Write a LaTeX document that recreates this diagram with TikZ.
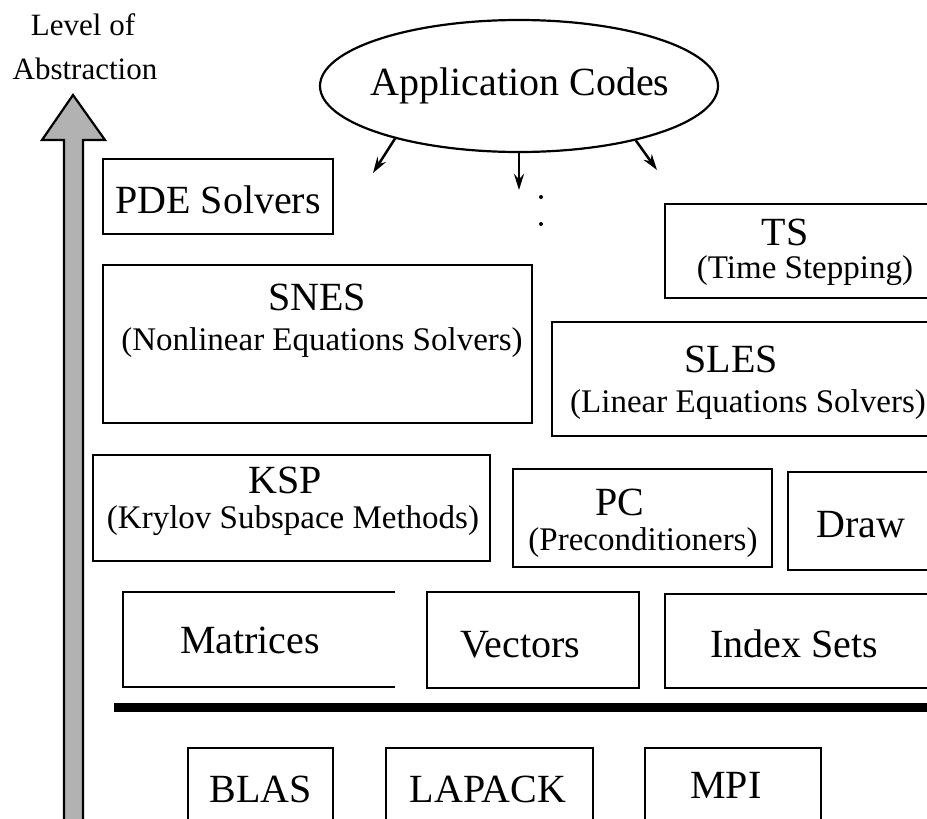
\documentclass[tikz,border=0pt]{standalone}
\usepackage{fontspec}
\setmainfont{Liberation Serif}
\usetikzlibrary{shapes.geometric,arrows.meta}

\begin{document}
\begin{tikzpicture}[x=1pt,y=-1pt,
  box/.style={draw, line width=2.2pt, inner sep=0pt, outer sep=0pt},
  openbox/.style={draw=none, inner sep=0pt, outer sep=0pt},
  title/.style={anchor=base, inner sep=0pt, font=\fontsize{40}{48}\selectfont},
  sub/.style={anchor=base, inner sep=0pt, font=\fontsize{33}{40}\selectfont},
  axislabel/.style={anchor=base, inner sep=0pt, font=\fontsize{31}{37}\selectfont},
  flow/.style={line width=2.5pt, -{Stealth[length=16pt,width=10pt]}}]

\useasboundingbox (0,0) rectangle (927,819);
\clip (0,0) rectangle (927,819);

% level-of-abstraction axis
\node[axislabel] (lvlA) at (83,35) {Level of};
\node[axislabel] (lvlB) at (85,79) {Abstraction};
\draw[line width=2.2pt, fill=black!30, line join=miter]
  (64,840) -- (64,140) -- (42,140) -- (73,95) -- (105,140) -- (83,140) -- (83,840);

% application codes
\node[ellipse, draw, line width=2.2pt, minimum width=398pt, minimum height=132pt, inner sep=0pt] (app) at (519,86) {};
\node[title] (appT) at (520,95) {Application Codes};
\coordinate (endL) at (373,173);
\coordinate (endM) at (519,190);
\coordinate (endR) at (657,170);
\draw[flow] (app.203.5) -- (endL);
\draw[flow] (app.270) -- (endM);
\draw[flow] (app.335) -- (endR);
\fill (541,197) circle (2);
\fill (541,224) circle (2);

% solver layers
\node[box, minimum width=230pt, minimum height=75pt] (pde) at (218,196.5) {};
\node[title] (pdeT) at (218,213) {PDE Solvers};

\node[box, minimum width=429pt, minimum height=158pt] (snes) at (317.5,344) {};
\node[title] (snesT) at (317,310) {SNES};
\node[sub] (snesS) at (322,350) {(Nonlinear Equations Solvers)};

\node[box, minimum width=285pt, minimum height=94pt] (ts) at (807.5,251) {};
\node[title] (tsT) at (785,245) {TS};
\node[sub] (tsS) at (805,278) {(Time Stepping)};

\node[box, minimum width=398pt, minimum height=114pt] (sles) at (751,379) {};
\node[title] (slesT) at (731,372) {SLES};
\node[sub] (slesS) at (748,412) {(Linear Equations Solvers)};

\node[box, minimum width=397pt, minimum height=106pt] (ksp) at (291.5,508) {};
\node[title] (kspT) at (285,493) {KSP};
\node[sub] (kspS) at (293,528) {(Krylov Subspace Methods)};

\node[box, minimum width=259pt, minimum height=98pt] (pc) at (642.5,518) {};
\node[title] (pcT) at (620,515) {PC};
\node[sub] (pcS) at (643,550) {(Preconditioners)};

\node[box, minimum width=162pt, minimum height=98pt] (drw) at (869,521) {};
\node[title] (drwT) at (861,537) {Draw};

% data objects
\node[openbox, minimum width=272pt, minimum height=95pt] (mat) at (259,639.5) {};
\draw[line width=2.2pt] (mat.north east) -- (mat.north west) -- (mat.south west) -- (mat.south east);
\node[title] (matT) at (250,653) {Matrices};

\node[box, minimum width=212pt, minimum height=96pt] (vec) at (533,640) {};
\node[title] (vecT) at (520,657) {Vectors};

\node[box, minimum width=285pt, minimum height=94pt] (idx) at (807.5,641) {};
\node[title] (idxT) at (794,657) {Index Sets};

% divider
\draw[line width=9pt] (114,707.5) -- (940,707.5);

% external libraries
\node[box, minimum width=145pt, minimum height=92pt] (blas) at (260.5,794) {};
\node[title] (blasT) at (261,802) {BLAS};

\node[box, minimum width=207pt, minimum height=92pt] (lapack) at (489.5,794) {};
\node[title] (lapackT) at (488,802) {LAPACK};

\node[box, minimum width=176pt, minimum height=92pt] (mpi) at (733,794) {};
\node[title] (mpiT) at (726,798) {MPI};
\end{tikzpicture}
\end{document}
